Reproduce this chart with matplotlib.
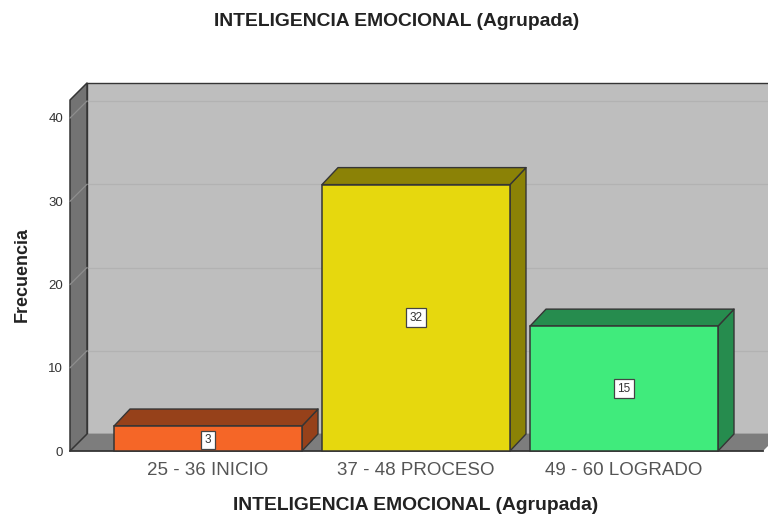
import matplotlib
matplotlib.use("Agg")
import matplotlib.pyplot as plt
from matplotlib.patches import Polygon, Rectangle

plt.rcParams["font.family"] = ["Liberation Sans", "DejaVu Sans"]

categories = ["25 - 36 INICIO", "37 - 48 PROCESO", "49 - 60 LOGRADO"]
values = [3, 32, 15]
face_colors = ["#f56627", "#e6d80e", "#40eb7c"]
dark_colors = ["#96411a", "#8b8206", "#268c4e"]
y_ticks = [0, 10, 20, 30, 40]

W, H = 768, 515
fig = plt.figure(figsize=(W / 100, H / 100), dpi=100)
# front plane of the 3D box, in pixels
left, right, top, bottom = 70, 763, 100, 451
ax = fig.add_axes([left / W, 1 - bottom / H, (right - left) / W, (bottom - top) / H])

px_x = 208.0   # pixels per category
px_y = 8.325   # pixels per frequency unit
ax.set_xlim((left - 208) / px_x, (right - 208) / px_x)
ax.set_ylim(0, (bottom - top) / px_y)
dx = 17 / px_x
dy = 17 / px_y
bar_dx = 16 / px_x
x0, x1 = ax.get_xlim()
y1 = ax.get_ylim()[1]
edge = "#353535"


def poly(points, color, z=1, lw=1.0, ec=edge):
    ax.add_patch(Polygon(points, closed=True, facecolor=color, edgecolor=ec,
                         linewidth=lw, zorder=z, clip_on=False, joinstyle="round"))


# walls and floor
poly([(x0 + dx, dy), (x1 + dx, dy), (x1 + dx, y1 + dy), (x0 + dx, y1 + dy)], "#bebebe", 1)
poly([(x0, 0), (x1, 0), (x1 + dx, dy), (x0 + dx, dy)], "#7d7d7d", 2, lw=0)
ax.plot([x0, x1], [0, 0], color=edge, lw=1.3, zorder=3, clip_on=False)
poly([(x0, 0), (x0 + dx, dy), (x0 + dx, y1 + dy), (x0, y1)], "#737373", 2, lw=1.1)

# gridlines on the walls
for t in y_ticks[1:]:
    ax.plot([x0 + dx, x1 + dx], [t + dy, t + dy], color="#b2b2b2", lw=0.9, zorder=1.5, clip_on=False)
    ax.plot([x0, x0 + dx], [t, t + dy], color="#8e8e8e", lw=0.9, zorder=3, clip_on=False)

# bars
bar_w = 188 / px_x
for i, v in enumerate(values):
    a, b = i - bar_w / 2, i + bar_w / 2
    poly([(b, 0), (b + bar_dx, dy), (b + bar_dx, v + dy), (b, v)], dark_colors[i], 4)
    poly([(a, v), (b, v), (b + bar_dx, v + dy), (a + bar_dx, v + dy)], dark_colors[i], 4)
    ax.add_patch(Rectangle((a, 0), bar_w, v, facecolor=face_colors[i], edgecolor=edge,
                           linewidth=1.1, zorder=5, clip_on=False))
    ax.text(i, v / 2 if v > 5 else v / 2 - 0.2, str(v), ha="center", va="center", fontsize=8.5,
            color="#333333", zorder=6,
            bbox=dict(boxstyle="square,pad=0.28", facecolor="white", edgecolor="#444444", linewidth=0.9))

for s in ax.spines.values():
    s.set_visible(False)
ax.patch.set_visible(False)
ax.set_yticks(y_ticks)
ax.set_xticks(range(len(categories)))
ax.set_xticklabels(categories, fontsize=13.5, color="#555555")
ax.tick_params(axis="y", length=0, pad=5, labelsize=9.5, labelcolor="#333333")
ax.tick_params(axis="x", length=0, pad=8)

fig.text(397 / W, 1 - 22 / H, "INTELIGENCIA EMOCIONAL (Agrupada)", ha="center", va="center",
         fontsize=13.9, fontweight="bold", color="#222222")
fig.text(416 / W, 1 - 505 / H, "INTELIGENCIA EMOCIONAL (Agrupada)", ha="center", va="center",
         fontsize=13.9, fontweight="bold", color="#222222")
fig.text(22 / W, 1 - 275 / H, "Frecuencia", rotation=90, ha="center", va="center",
         fontsize=13, fontweight="bold", color="#222222")

fig.savefig("out.png", dpi=100)
